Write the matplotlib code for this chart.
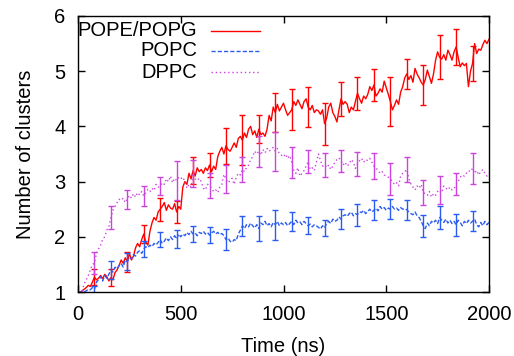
import numpy as np
import matplotlib
matplotlib.use("Agg")
import matplotlib.pyplot as plt

plt.rcParams['font.family'] = ['Liberation Sans', 'DejaVu Sans']

# time axis (ns), 10 ns sampling
time_ns = np.arange(0, 2001, 10)

pope_popg = [
    1.00, 1.00, 1.02, 1.05, 1.08, 1.12, 1.10, 1.18, 1.27, 1.22, 1.25,
    1.30, 1.24, 1.32, 1.28, 1.20, 1.26, 1.22, 1.35, 1.40, 1.48,
    1.58, 1.52, 1.62, 1.55, 1.70, 1.58, 1.65, 1.80, 1.88, 1.82,
    1.95, 2.05, 1.90, 1.85, 2.10, 2.25, 2.35, 2.30, 2.45, 2.50,
    2.55, 2.62, 2.48, 2.58, 2.52, 2.50, 2.60, 2.45, 2.55, 2.50,
    2.90, 3.00, 2.95, 3.15, 3.05, 3.20, 3.10, 3.25, 3.18, 3.22,
    3.15, 3.25, 3.20, 3.30, 3.18, 3.28, 3.22, 3.45, 3.55, 3.62,
    3.50, 3.65, 3.58, 3.55, 3.62, 3.70, 3.62, 3.78, 3.82, 3.75,
    3.88, 3.80, 3.95, 4.00, 3.85, 3.92, 3.80, 3.95, 3.85, 3.88,
    3.82, 3.95, 4.20, 4.10, 4.35, 4.25, 4.40, 4.28, 4.35, 4.42,
    4.30, 4.20, 4.25, 4.30, 4.45, 4.38, 4.48, 4.40, 4.32, 4.45,
    4.50, 4.35, 4.30, 4.38, 4.25, 4.30, 4.28, 4.22, 4.30, 4.05,
    4.15, 4.35, 4.42, 4.25, 4.18, 4.08, 4.30, 4.50, 4.40, 4.45,
    4.40, 4.25, 4.35, 4.30, 4.45, 4.60, 4.50, 4.42, 4.55, 4.50,
    4.58, 4.72, 4.65, 4.75, 4.55, 4.60, 4.68, 4.62, 4.82, 4.70,
    4.58, 4.45, 4.30, 4.38, 4.48, 4.40, 4.62, 4.72, 4.88, 4.95,
    4.85, 4.92, 4.80, 5.05, 4.95, 4.88, 4.80, 4.75, 4.85, 5.02,
    4.90, 4.78, 4.95, 5.20, 5.35, 5.25, 5.22, 5.30, 5.20, 5.38,
    5.30, 5.20, 5.35, 5.44, 5.25, 5.08, 5.15, 5.10, 5.14, 4.72,
    5.00, 5.14, 5.50, 5.32, 5.40, 5.38, 5.48, 5.56, 5.50, 5.58,
]

popc = [
    1.00, 1.00, 1.00, 1.00, 1.02, 1.05, 1.04, 1.08, 1.05, 1.18, 1.22,
    1.28, 1.20, 1.30, 1.25, 1.32, 1.40, 1.36, 1.45, 1.42, 1.48,
    1.52, 1.45, 1.58, 1.55, 1.62, 1.60, 1.68, 1.65, 1.72, 1.75,
    1.70, 1.78, 1.82, 1.80, 1.85, 1.82, 1.88, 1.85, 1.90, 1.95,
    1.88, 1.92, 1.98, 1.93, 2.00, 1.95, 2.02, 1.96, 2.05, 2.00,
    2.05, 2.02, 2.08, 2.04, 2.10, 2.05, 2.07, 2.02, 2.08, 2.06,
    2.10, 2.05, 2.08, 2.03, 2.07, 2.10, 2.05, 2.08, 2.04, 2.06,
    2.02, 1.95, 1.98, 1.92, 1.90, 1.95, 1.93, 2.05, 2.12, 2.20,
    2.15, 2.22, 2.18, 2.25, 2.20, 2.16, 2.22, 2.15, 2.25, 2.22,
    2.28, 2.20, 2.24, 2.18, 2.26, 2.22, 2.28, 2.20, 2.25, 2.22,
    2.26, 2.20, 2.24, 2.28, 2.22, 2.30, 2.25, 2.27, 2.22, 2.28,
    2.24, 2.20, 2.23, 2.18, 2.22, 2.20, 2.17, 2.14, 2.20, 2.16,
    2.25, 2.28, 2.24, 2.32, 2.28, 2.30, 2.36, 2.32, 2.38, 2.40,
    2.37, 2.42, 2.45, 2.38, 2.42, 2.40, 2.45, 2.44, 2.48, 2.42,
    2.46, 2.50, 2.45, 2.48, 2.52, 2.47, 2.55, 2.50, 2.53, 2.48,
    2.52, 2.50, 2.55, 2.50, 2.52, 2.48, 2.53, 2.50, 2.51, 2.49,
    2.45, 2.42, 2.40, 2.45, 2.38, 2.35, 2.28, 2.20, 2.15, 2.25,
    2.20, 2.28, 2.25, 2.30, 2.24, 2.35, 2.30, 2.26, 2.32, 2.25,
    2.30, 2.24, 2.28, 2.22, 2.30, 2.26, 2.20, 2.28, 2.24, 2.30,
    2.25, 2.28, 2.32, 2.22, 2.18, 2.26, 2.20, 2.28, 2.22, 2.26,
]

dppc = [
    1.00, 1.00, 1.02, 1.15, 1.22, 1.30, 1.40, 1.50, 1.52, 1.70, 1.78,
    1.85, 1.95, 2.00, 2.12, 2.18, 2.35, 2.48, 2.55, 2.62, 2.68,
    2.66, 2.70, 2.62, 2.68, 2.75, 2.70, 2.78, 2.72, 2.80, 2.76,
    2.82, 2.74, 2.80, 2.86, 2.82, 2.88, 2.84, 2.95, 2.90, 2.92,
    2.98, 2.95, 3.05, 3.00, 3.10, 2.98, 3.06, 3.02, 3.08, 3.05,
    3.08, 3.00, 2.88, 2.95, 2.90, 3.15, 3.05, 3.02, 3.06, 3.00,
    2.88, 2.85, 2.95, 2.93, 2.88, 2.82, 2.85, 2.80, 2.90, 2.95,
    3.13, 3.05, 2.98, 3.02, 3.06, 2.95, 3.08, 3.15, 3.12, 3.22,
    3.18, 3.25, 3.30, 3.40, 3.45, 3.55, 3.50, 3.55, 3.48, 3.58,
    3.52, 3.60, 3.55, 3.58, 3.62, 3.55, 3.60, 3.50, 3.48, 3.45,
    3.50, 3.42, 3.47, 3.35, 3.20, 3.15, 3.25, 3.10, 3.15, 3.20,
    3.28, 3.36, 3.22, 3.25, 3.20, 3.35, 3.50, 3.38, 3.28, 3.30,
    3.25, 3.30, 3.22, 3.28, 3.35, 3.40, 3.43, 3.38, 3.30, 3.35,
    3.28, 3.32, 3.40, 3.35, 3.24, 3.32, 3.38, 3.42, 3.35, 3.40,
    3.38, 3.42, 3.35, 3.28, 3.25, 3.20, 3.15, 3.18, 3.12, 3.10,
    3.08, 3.05, 3.00, 2.95, 2.98, 2.92, 3.10, 3.15, 3.18, 3.22,
    3.05, 2.95, 2.90, 2.85, 2.92, 2.88, 2.95, 2.80, 2.78, 2.75,
    2.82, 2.72, 2.78, 2.75, 2.82, 2.85, 2.80, 2.92, 2.88, 2.85,
    2.90, 2.85, 2.87, 2.95, 3.00, 3.08, 3.12, 3.10, 3.15, 3.20,
    3.18, 3.24, 3.15, 3.20, 3.12, 3.18, 3.22, 3.15, 3.10, 3.15,
]

# error bars every 80 ns (80 ... 1920)
err_times = np.arange(80, 1921, 80)
pope_popg_err = [0.14, 0.15, 0.18, 0.17, 0.21, 0.20, 0.25, 0.21, 0.33, 0.45, 0.25, 0.35,
                 0.37, 0.36, 0.38, 0.31, 0.30, 0.29, 0.45, 0.28, 0.37, 0.40, 0.33, 0.32]
popc_err = [0.06, 0.16, 0.15, 0.15, 0.14, 0.16, 0.14, 0.14, 0.19, 0.18, 0.23, 0.27,
            0.17, 0.15, 0.14, 0.18, 0.20, 0.18, 0.18, 0.18, 0.20, 0.21, 0.20, 0.18]
dppc_err = [0.20, 0.20, 0.17, 0.18, 0.17, 0.36, 0.25, 0.22, 0.25, 0.23, 0.28, 0.35,
            0.28, 0.21, 0.21, 0.20, 0.21, 0.23, 0.29, 0.23, 0.23, 0.25, 0.20, 0.28]

labels = ["POPE/POPG", "POPC", "DPPC"]
colors = ["#ff0000", "#2a5cf0", "#cc44e0"]
styles = ["-", (0, (3, 1.5)), (0, (1, 2))]
series = [pope_popg, popc, dppc]
errors = [pope_popg_err, popc_err, dppc_err]

FS = 14.5

fig = plt.figure(figsize=(5.14, 3.56), dpi=100)
ax = fig.add_axes([78 / 514, 1 - 292 / 356, 411 / 514, 276 / 356])

err_idx = np.searchsorted(time_ns, err_times)
for vals, err, col, ls in zip(series, errors, colors, styles):
    vals = np.asarray(vals)
    ax.plot(time_ns, vals, color=col, linestyle=ls, linewidth=1.0)
    ax.errorbar(err_times, vals[err_idx], yerr=err, fmt='none', ecolor=col,
                elinewidth=1.0, capsize=2.5, capthick=1.0)

ax.set_xlim(0, 2000)
ax.set_ylim(1, 6)
ax.set_xticks([0, 500, 1000, 1500, 2000])
ax.set_yticks([1, 2, 3, 4, 5, 6])
ax.tick_params(direction='in', length=5, width=1, top=True, right=True,
               labelsize=FS)
ax.tick_params(axis='y', pad=9)
ax.tick_params(axis='x', pad=9)
for sp in ax.spines.values():
    sp.set_linewidth(1.0)

ax.set_xlabel("Time (ns)", fontsize=FS, labelpad=10)
ax.set_ylabel("Number of clusters", fontsize=FS, labelpad=14)

# key (gnuplot style: text right-aligned, sample to the right)
key_y = [0.9457, 0.8732, 0.797]
for lab, col, ls, yk in zip(labels, colors, styles, key_y):
    ax.text(0.2895, yk, lab, transform=ax.transAxes, ha='right', va='center',
            fontsize=FS)
    ax.plot([0.3236, 0.4428], [yk, yk], transform=ax.transAxes, color=col,
            linestyle=ls, linewidth=1.0)

fig.savefig("out.png", dpi=100)
